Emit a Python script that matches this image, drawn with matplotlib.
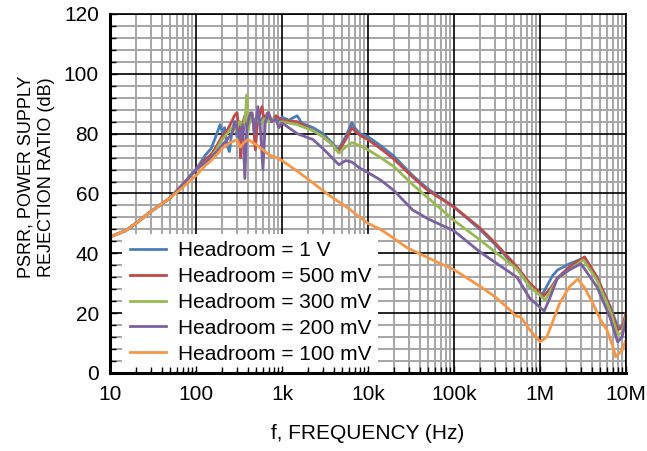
import numpy as np
import matplotlib.pyplot as plt
from matplotlib.ticker import FixedLocator, NullFormatter, FixedFormatter

plt.rcParams['font.family'] = ['Liberation Sans', 'DejaVu Sans']

# frequency (Hz) / PSRR (dB), one pair per curve
f_1v = [10, 15, 20, 30, 50, 70, 100, 130, 150, 175, 190, 205, 215, 230, 245, 260, 280, 300, 320,
        350, 380, 410, 440, 480, 520, 560, 620, 700, 800, 900, 1000, 1200, 1500, 1700, 2300, 3000,
        3800, 4500, 5500, 6500, 7000, 8000, 10000, 14000, 20000, 33000, 50000, 100000, 200000,
        300000, 540000, 760000, 1.05e6, 1.2e6, 1.4e6, 1.6e6, 2.2e6, 3.3e6, 4.6e6, 6.5e6, 8e6,
        9e6, 1e7]
psrr_1v = [45.5, 47.5, 50, 54, 58.5, 63, 68, 73, 75, 80, 83, 80, 82, 76, 74, 80, 84, 79, 84,
           80, 85, 83, 86, 84, 86, 84, 86, 84, 85, 84, 85.5, 84.5, 86, 83.5, 82, 80,
           77, 74.6, 79, 83.6, 82, 80, 79, 76, 72.5, 66, 61.5, 55.5, 48,
           43, 35, 28.8, 26, 29, 32.5, 34.4, 36.5, 38.5, 32, 22.5, 15.4,
           15.5, 19]

f_500mv = [10, 15, 20, 30, 50, 70, 100, 130, 150, 175, 200, 230, 260, 280, 300, 320, 330, 345,
           370, 400, 430, 460, 490, 520, 585, 620, 680, 750, 850, 1000, 1500, 2300, 3000, 3800,
           4500, 5500, 6500, 7000, 8000, 10000, 14000, 20000, 33000, 50000, 100000, 200000,
           300000, 540000, 760000, 1.1e6, 1.3e6, 1.6e6, 2.2e6, 3.3e6, 4.6e6, 6.5e6, 8e6, 9e6, 1e7]
psrr_500mv = [45.5, 47.5, 50, 54, 58.5, 63, 68, 71.5, 73, 76, 79, 81, 84, 86, 87, 80, 72, 83,
              86, 82, 87, 85, 74.6, 84, 89, 84, 87, 84, 86, 84.5, 84, 81, 79, 76.5,
              74, 78, 82, 81, 79.5, 78, 75, 71.5, 65.5, 61, 55.5, 48.5,
              43.5, 35.5, 30, 25.7, 28, 31.8, 35.5, 38.8, 32, 22, 14.4, 15, 20]

f_300mv = [10, 15, 20, 30, 50, 70, 100, 130, 150, 175, 200, 230, 260, 290, 320, 350, 375, 390,
           400, 420, 450, 480, 520, 560, 620, 700, 800, 900, 1000, 1500, 2300, 3000, 3800, 4600,
           5500, 6500, 8000, 10000, 14000, 20000, 33000, 50000, 100000, 200000, 300000, 540000,
           760000, 1.15e6, 1.3e6, 1.6e6, 2.2e6, 3.2e6, 4.6e6, 6.5e6, 8e6, 9e6, 1e7]
psrr_300mv = [45.5, 47.5, 50, 54, 58.5, 63, 68, 70.5, 72, 75, 78, 80, 82, 81, 84, 82, 86, 93,
              80, 84, 86, 83, 85, 83, 85, 84, 85, 83.5, 84, 83, 81, 79, 76.5, 73.5,
              75.5, 77, 76, 74.6, 72, 69, 63, 58.5, 51, 44.5, 40.5, 34.8,
              29, 24.4, 27, 31.5, 34.5, 37.8, 31, 21, 12.7, 13.5, 18.7]

f_200mv = [10, 15, 20, 30, 50, 70, 100, 130, 150, 175, 200, 230, 260, 290, 320, 350, 370, 390,
           420, 450, 480, 525, 560, 600, 640, 700, 760, 850, 920, 1000, 1500, 2300, 3000, 3800,
           4600, 5500, 6500, 8000, 10000, 14000, 20000, 33000, 50000, 100000, 200000, 300000,
           540000, 760000, 1.12e6, 1.3e6, 1.6e6, 2.2e6, 3e6, 4.6e6, 6.5e6, 8e6, 9e6, 1e7]
psrr_200mv = [45.5, 47.5, 50, 54, 58.5, 63, 68, 70.5, 72, 74, 76, 78, 80, 84, 78, 83, 65, 82,
              86, 87, 80, 89, 82, 68, 84, 87, 84, 85, 82, 83.6, 80, 78, 75, 72,
              69.6, 71, 70.5, 68.5, 67, 64.5, 61, 54.5, 51.5, 47.5, 40.5, 37,
              32, 25, 20.7, 25, 31.8, 34.5, 36.5, 28.8, 18.7, 10.4, 12, 17.7]

f_100mv = [10, 15, 20, 30, 50, 70, 100, 130, 150, 175, 200, 250, 300, 330, 360, 400, 460, 520,
           600, 700, 850, 1000, 1500, 2300, 3500, 5600, 10000, 14000, 20000, 28000, 50000,
           100000, 200000, 300000, 450000, 500000, 540000, 600000, 760000, 1e6, 1.2e6, 1.7e6,
           2.2e6, 2.75e6, 3.3e6, 4.1e6, 5e6, 6e6, 7e6, 7.6e6, 9e6, 1e7]
psrr_100mv = [45.5, 47.5, 50, 54, 58.5, 62, 66, 69.5, 71, 73, 75, 77, 78, 75.5, 77, 78, 77, 76,
              74.6, 73, 72, 71, 67.5, 63.5, 59.5, 55.5, 50, 48, 45, 42, 38.5,
              34.5, 29, 25.5, 21, 19.5, 19, 18.7, 14.4, 10.4, 12, 23.4,
              28.8, 31.4, 28.5, 23.4, 18, 14.4, 9, 5.4, 7.5, 11]

labels = ['Headroom = 1 V', 'Headroom = 500 mV', 'Headroom = 300 mV',
          'Headroom = 200 mV', 'Headroom = 100 mV']
colors = ['#4A7EBB', '#BE4B48', '#98B954', '#7D60A0', '#F79646']

fig = plt.figure(figsize=(6.47, 4.51), dpi=100)
ax = fig.add_axes([0.170, 0.173, 0.7975, 0.796])

ax.set_xscale('log')
ax.set_xlim(10, 1e7)
ax.set_ylim(0, 120)

# grid drawn by hand so the legend can sit between grid and ticks
decades = [10, 100, 1e3, 1e4, 1e5, 1e6, 1e7]
minor_x = [d * k for d in decades[:-1] for k in range(2, 10)]
for x in minor_x:
    ax.axvline(x, color='#a6a6a6', lw=1.4, zorder=1)
for y in range(0, 121, 4):
    if y % 20:
        ax.axhline(y, color='#a6a6a6', lw=1.4, zorder=1)
for x in decades:
    ax.axvline(x, color='black', lw=1.2, zorder=1.1)
for y in range(0, 121, 20):
    ax.axhline(y, color='black', lw=1.2, zorder=1.1)

series = [(f_1v, psrr_1v), (f_500mv, psrr_500mv), (f_300mv, psrr_300mv),
          (f_200mv, psrr_200mv), (f_100mv, psrr_100mv)]
for (f, p), lab, c in zip(series, labels, colors):
    ax.plot(f, p, color=c, lw=2.0, label=lab, zorder=2)

ax.xaxis.set_major_locator(FixedLocator(decades))
ax.xaxis.set_major_formatter(FixedFormatter(['10', '100', '1k', '10k', '100k', '1M', '10M']))
ax.xaxis.set_minor_locator(FixedLocator(minor_x))
ax.xaxis.set_minor_formatter(NullFormatter())
ax.set_yticks(range(0, 121, 20))
ax.set_yticks(range(0, 121, 4), minor=True)

ax.tick_params(which='both', direction='in', labelsize=15, color='black')
ax.tick_params(which='major', length=5, width=1)
ax.tick_params(which='minor', length=4, width=1)
ax.tick_params(axis='x', pad=9)
ax.tick_params(axis='y', pad=8)
ax.set_axisbelow(False)

for s in ['left', 'bottom']:
    ax.spines[s].set_linewidth(2.2)
for s in ['top', 'right']:
    ax.spines[s].set_linewidth(1.2)

ax.set_xlabel('f, FREQUENCY (Hz)', fontsize=15, labelpad=14)
ax.set_ylabel('PSRR, POWER SUPPLY\nREJECTION RATIO (dB)', fontsize=13, linespacing=1.25)
ax.yaxis.set_label_coords(-0.107, 0.546)

leg = ax.legend(loc='lower left', bbox_to_anchor=(0.02, 0.0), borderaxespad=0.1,
                fontsize=15, frameon=True, fancybox=False, framealpha=1,
                edgecolor='none', handlelength=1.75, handletextpad=0.55,
                labelspacing=0.33, borderpad=0.35)
leg.set_zorder(1.8)

fig.savefig('out.png', dpi=100)
